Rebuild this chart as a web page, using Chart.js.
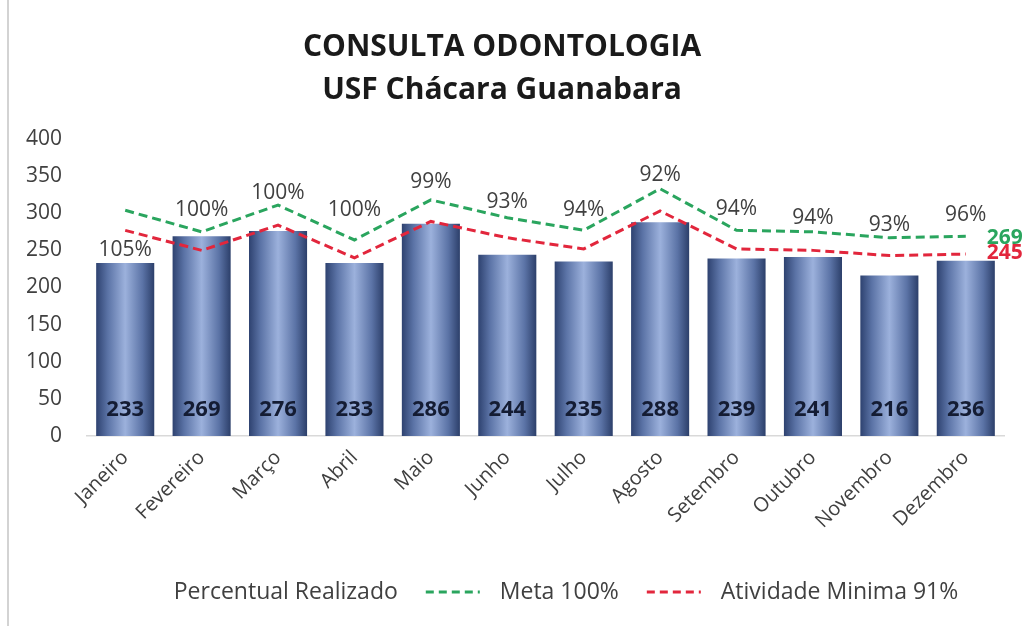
<!DOCTYPE html>
<html>
<head>
<meta charset="utf-8">
<script src="https://cdn.jsdelivr.net/npm/chart.js@4"></script>
<style>
html,body{margin:0;padding:0;background:#fff;}
#wrap{width:1022px;height:626px;position:relative;}
</style>
</head>
<body>
<div id="wrap"><canvas id="c" width="1022" height="626"></canvas></div>
<script>
const months = ['Janeiro','Fevereiro','Março','Abril','Maio','Junho','Julho','Agosto','Setembro','Outubro','Novembro','Dezembro'];
const realizado = [233,269,276,233,286,244,235,288,239,241,216,236];
const meta = [304,275,311,264,318,294,277,333,277,275,267,269];
const minima = [277,250,284,240,289,267,252,303,252,250,243,245];
const percentLabels = ['105%','100%','100%','100%','99%','93%','94%','92%','94%','94%','93%','96%'];
const percentAnchor = [250,304,327,304,342,315,304,351,306,294,284,298];
const yTicks = [0,50,100,150,200,250,300,350,400];

const FONT = "'Open Sans', 'DejaVu Sans', sans-serif";
const TXT = '#404040';
const GREEN = '#2aa55e';
const RED = '#e2263c';
const BAR_PCT = 0.76;

function barGradient(ctx) {
  const chart = ctx.chart;
  const xs = chart.scales.x;
  if (!chart.chartArea || !xs || ctx.dataIndex === undefined) return '#5d74a6';
  const cx = xs.getPixelForValue(ctx.dataIndex);
  const cw = (chart.chartArea.right - chart.chartArea.left) / months.length;
  const half = cw * BAR_PCT / 2;
  const g = chart.ctx.createLinearGradient(cx - half, 0, cx + half, 0);
  g.addColorStop(0, '#2e4270');
  g.addColorStop(0.2, '#5b73a6');
  g.addColorStop(0.5, '#9cb1dc');
  g.addColorStop(0.8, '#5b73a6');
  g.addColorStop(1, '#2c3f6a');
  return g;
}

const labelsPlugin = {
  id: 'customLabels',
  afterDatasetsDraw(chart) {
    const c = chart.ctx;
    const xs = chart.scales.x, ys = chart.scales.y;
    c.save();
    c.font = "bold 22px " + FONT;
    c.fillStyle = '#141c33';
    c.textAlign = 'center';
    c.textBaseline = 'middle';
    realizado.forEach((v, i) => {
      c.fillText(String(v), xs.getPixelForValue(i), ys.getPixelForValue(0) - 26);
    });
    c.font = "21px " + FONT;
    c.fillStyle = TXT;
    percentLabels.forEach((t, i) => {
      c.fillText(t, xs.getPixelForValue(i), ys.getPixelForValue(percentAnchor[i]));
    });
    const last = months.length - 1;
    c.font = "bold 21px " + FONT;
    c.textAlign = 'left';
    c.fillStyle = GREEN;
    c.fillText(String(meta[last]), xs.getPixelForValue(last) + 21, ys.getPixelForValue(meta[last]) + 2);
    c.fillStyle = RED;
    c.fillText(String(minima[last]), xs.getPixelForValue(last) + 21, ys.getPixelForValue(minima[last]) - 1);
    c.restore();
  },
  afterDraw(chart) {
    const c = chart.ctx;
    c.save();
    c.strokeStyle = '#c4c4c4';
    c.lineWidth = 1.5;
    c.beginPath(); c.moveTo(8, 0); c.lineTo(8, 626); c.stroke();
    const items = [
      {text: 'Percentual Realizado', color: null},
      {text: 'Meta 100%', color: GREEN},
      {text: 'Atividade Minima 91%', color: RED}
    ];
    c.font = "23px " + FONT;
    c.textBaseline = 'middle';
    c.textAlign = 'left';
    const lineW = 54, gapBefore = 28, gapAfter = 20;
    let total = 0;
    items.forEach(it => {
      total += c.measureText(it.text).width;
      if (it.color) total += gapBefore + lineW + gapAfter;
    });
    let x = 566 - total / 2;
    const y = 592;
    items.forEach(it => {
      if (it.color) {
        x += gapBefore;
        c.strokeStyle = it.color;
        c.lineWidth = 3;
        c.setLineDash([8, 5]);
        c.beginPath(); c.moveTo(x, y); c.lineTo(x + lineW, y); c.stroke();
        c.setLineDash([]);
        x += lineW + gapAfter;
      }
      c.fillStyle = TXT;
      c.fillText(it.text, x, y);
      x += c.measureText(it.text).width;
    });
    c.restore();
  }
};

new Chart(document.getElementById('c'), {
  data: {
    labels: months,
    datasets: [
      {
        type: 'line', label: 'Meta 100%', data: meta,
        borderColor: GREEN, borderWidth: 3, borderDash: [9, 5],
        pointRadius: 0, fill: false, tension: 0, order: 1
      },
      {
        type: 'line', label: 'Atividade Minima 91%', data: minima,
        borderColor: RED, borderWidth: 3, borderDash: [9, 5],
        pointRadius: 0, fill: false, tension: 0, order: 2
      },
      {
        type: 'line', label: 'Percentual Realizado', data: percentAnchor,
        showLine: false, pointRadius: 0, borderColor: 'rgba(0,0,0,0)', order: 3
      },
      {
        type: 'bar', label: 'Realizado', data: realizado,
        backgroundColor: barGradient, borderWidth: 0,
        barPercentage: BAR_PCT, categoryPercentage: 1, order: 4
      }
    ]
  },
  options: {
    responsive: false,
    animation: false,
    devicePixelRatio: 1,
    layout: { padding: { left: 0, right: 18, top: 0, bottom: 0 } },
    plugins: {
      legend: { display: false },
      tooltip: { enabled: false },
      title: {
        display: true,
        text: ['CONSULTA ODONTOLOGIA', 'USF Chácara Guanabara'],
        color: '#1a1a1a',
        font: { family: FONT, size: 30, weight: 'bold', lineHeight: '43px' },
        padding: { top: 26, bottom: 27 }
      }
    },
    scales: {
      y: {
        min: 0, max: 400,
        afterBuildTicks(scale) { scale.ticks = yTicks.map(v => ({ value: v })); },
        afterFit(scale) { scale.width = 87; },
        grid: { display: false, drawTicks: false },
        border: { display: false },
        ticks: { color: TXT, font: { family: FONT, size: 21 }, padding: 25 }
      },
      x: {
        afterFit(scale) { scale.height = 190; },
        grid: { display: false, drawTicks: false },
        border: { display: true, color: '#d9d9d9', width: 1.5 },
        ticks: { color: TXT, font: { family: FONT, size: 20 }, minRotation: 45, maxRotation: 45, padding: 10, autoSkip: false }
      }
    }
  },
  plugins: [labelsPlugin]
});
</script>
</body>
</html>
